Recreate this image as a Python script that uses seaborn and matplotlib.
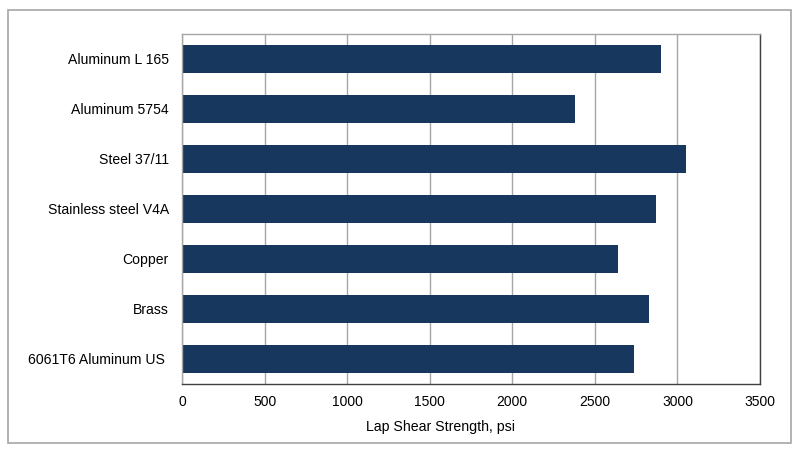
import matplotlib
matplotlib.use('Agg')
import matplotlib.pyplot as plt
import matplotlib.patches as patches
import seaborn as sns
import pandas as pd

materials = ['Aluminum L 165', 'Aluminum 5754', 'Steel 37/11', 'Stainless steel V4A',
             'Copper', 'Brass', '6061T6 Aluminum US ']
strength = [2900, 2380, 3050, 2870, 2640, 2830, 2740]

df = pd.DataFrame({'Material': materials, 'Strength': strength})

sns.set_style('white')
plt.rcParams['font.family'] = ['Liberation Sans', 'DejaVu Sans']

fig = plt.figure(figsize=(8, 4.49), dpi=100)
ax = fig.add_axes([0.2275, 0.1448, 0.7225, 0.7795])

sns.barplot(data=df, x='Strength', y='Material', color='#17375E', width=0.56,
            saturation=1, edgecolor='none', ax=ax)

ax.set_xlim(0, 3500)
ax.set_ylim(6.5, -0.5)
ax.set_xticks(range(0, 3501, 500))
ax.xaxis.grid(True, color='#A6A6A6', linewidth=1)
ax.set_axisbelow(True)
ax.tick_params(axis='x', length=0, labelsize=10, colors='#000000', pad=8)
ax.tick_params(axis='y', length=0, labelsize=10.1, colors='#000000', pad=9.5)
ax.set_ylabel('')
ax.set_xlabel('Lap Shear Strength, psi', fontsize=10.2, color='#000000')
ax.xaxis.set_label_coords(0.447, -0.104)

ax.spines['left'].set_color('#A6A6A6')
ax.spines['top'].set_color('#A6A6A6')
ax.spines['right'].set_color('#404040')
ax.spines['bottom'].set_color('#404040')
for s in ax.spines.values():
    s.set_linewidth(1)

# outer frame around the chart
frame = patches.Rectangle((8 / 800, 1 - 443 / 449), 783 / 800, 433 / 449,
                          transform=fig.transFigure, fill=False,
                          edgecolor='#A6A6A6', linewidth=1.2)
fig.patches.append(frame)

fig.savefig('out.png', dpi=100)
